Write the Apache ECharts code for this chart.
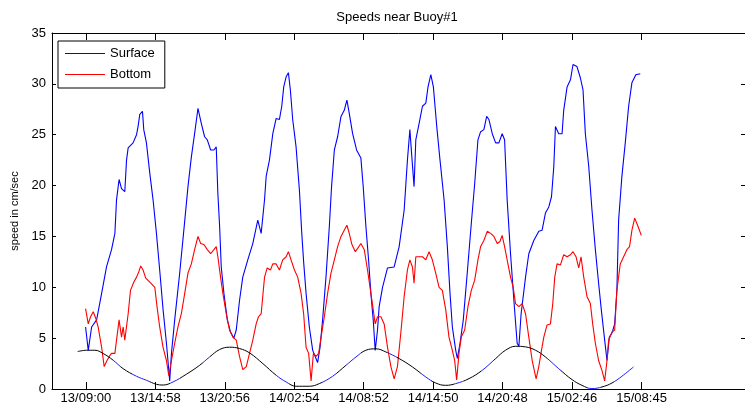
<!DOCTYPE html>
<html>
<head>
<meta charset="utf-8">
<script src="https://cdn.jsdelivr.net/npm/echarts@6/dist/echarts.min.js"></script>
<style>
html,body{margin:0;padding:0;background:#fff;}
#chart{width:745px;height:407px;}
</style>
</head>
<body>
<div id="chart"></div>
<script>
// Time in hours since 13/09:00
const tickHours = [0, 5.967, 11.933, 17.9, 23.867, 29.833, 35.8, 41.767, 47.75];
const tickLabels = ['13/09:00', '13/14:58', '13/20:56', '14/02:54', '14/08:52', '14/14:50', '14/20:48', '15/02:46', '15/08:45'];
const yTicks = [0, 5, 10, 15, 20, 25, 30, 35];

const surfaceHours = [-0.03,0.20,0.49,0.92,1.35,1.77,2.20,2.49,2.63,2.85,3.06,3.34,3.49,3.63,4.05,4.35,4.48,4.63,4.86,4.97,5.20,5.49,5.77,6.06,6.34,6.63,6.92,7.20,7.35,7.63,8.06,8.49,8.77,9.06,9.34,9.63,9.92,10.20,10.43,10.72,11.00,11.20,11.34,11.49,11.63,11.86,12.15,12.43,12.71,12.92,13.20,13.48,13.91,14.34,14.77,15.06,15.35,15.49,15.77,16.06,16.35,16.63,16.83,17.00,17.21,17.40,17.57,17.77,18.06,18.35,18.54,18.71,18.92,19.20,19.49,19.91,20.12,20.34,20.63,20.92,21.11,21.35,21.63,21.92,22.20,22.43,22.63,22.92,23.26,23.63,23.83,24.06,24.29,24.49,24.69,24.86,25.06,25.20,25.49,25.92,26.49,26.92,27.35,27.63,27.84,28.01,28.20,28.35,28.63,28.92,29.21,29.40,29.64,29.86,30.15,30.43,30.78,31.06,31.29,31.49,31.78,31.92,32.15,32.43,32.77,33.12,33.41,33.69,33.92,34.20,34.44,34.63,34.92,35.21,35.49,35.77,35.98,36.20,36.49,36.78,37.06,37.21,37.40,37.78,38.06,38.49,38.92,39.20,39.49,39.78,40.01,40.21,40.35,40.63,40.92,41.06,41.35,41.64,41.86,42.20,42.49,42.72,42.92,43.21,43.49,43.78,44.06,44.29,44.58,44.78,44.98,45.21,45.44,45.63,45.78,46.06,46.35,46.64,46.92,47.26,47.64];
const surfaceSpeed = [6.1,3.8,6.1,6.8,9.4,12.0,13.7,15.3,18.6,20.6,19.7,19.4,22.5,23.7,24.2,25.0,25.8,27.0,27.3,25.5,24.2,21.2,18.6,15.3,11.7,7.8,4.5,0.8,3.5,6.8,11.4,16.5,19.9,22.8,25.1,27.6,26.1,24.8,24.5,23.5,23.5,23.8,19.2,16.0,12.0,9.4,6.8,5.6,5.0,5.8,8.7,11.0,12.7,14.3,16.6,15.3,18.6,20.9,22.5,25.1,26.6,26.5,27.8,29.7,30.7,31.1,29.4,26.5,23.8,19.5,15.5,12.5,9.4,6.1,3.8,2.6,4.1,6.8,11.0,16.0,19.9,23.5,24.8,26.8,27.4,28.4,27.1,25.1,23.5,22.7,19.9,16.0,12.7,9.4,6.8,3.8,5.8,8.1,10.0,11.9,12.0,14.0,17.6,22.5,25.5,22.8,19.9,24.5,26.1,27.8,28.1,29.7,30.9,29.7,25.8,22.5,18.6,14.0,9.4,6.1,3.8,3.0,4.5,6.8,11.4,16.3,20.2,24.5,25.3,25.5,26.8,26.5,25.1,24.2,24.2,25.1,24.5,18.6,13.3,8.7,4.5,4.2,7.4,11.0,13.3,14.6,15.5,15.6,17.3,17.9,18.9,21.9,25.8,25.1,25.1,27.4,29.7,30.4,31.9,31.7,30.6,29.4,25.1,21.9,17.6,13.7,10.4,7.8,4.8,2.8,5.1,5.5,6.4,9.7,16.6,20.9,24.2,27.8,30.1,30.9,31.0];

const bottomHours = [-0.03,0.20,0.40,0.63,0.86,1.05,1.35,1.57,1.77,2.00,2.20,2.49,2.63,2.85,3.06,3.20,3.34,3.63,3.83,4.11,4.35,4.54,4.71,4.91,5.14,5.49,5.92,6.11,6.34,6.63,6.92,7.12,7.35,7.63,7.91,8.20,8.49,8.77,9.06,9.34,9.63,9.86,10.14,10.43,10.72,11.00,11.20,11.34,11.57,11.77,12.06,12.34,12.63,12.92,13.20,13.48,13.78,14.06,14.34,14.63,14.83,15.06,15.35,15.58,15.86,16.06,16.35,16.63,16.91,17.21,17.40,17.63,17.92,18.20,18.49,18.71,18.92,19.14,19.35,19.55,19.78,20.00,20.21,20.49,20.77,21.06,21.35,21.63,21.92,22.20,22.43,22.63,22.86,23.15,23.34,23.63,23.92,24.20,24.49,24.69,24.86,25.06,25.35,25.63,25.92,26.21,26.49,26.77,27.06,27.35,27.63,27.84,28.06,28.20,28.35,28.63,28.92,29.21,29.49,29.77,30.06,30.35,30.63,30.92,31.20,31.49,31.69,31.86,32.06,32.26,32.55,32.83,33.12,33.41,33.69,33.92,34.20,34.49,34.78,35.06,35.35,35.58,35.77,35.98,36.20,36.49,36.72,36.92,37.21,37.49,37.78,38.06,38.35,38.69,38.92,39.15,39.35,39.63,39.92,40.12,40.29,40.49,40.78,41.06,41.35,41.64,41.86,42.12,42.35,42.55,42.78,43.06,43.35,43.55,43.78,44.06,44.35,44.58,44.78,44.92,45.21,45.44,45.63,45.92,46.21,46.49,46.72,46.92,47.16,47.44,47.73];
const bottomSpeed = [7.9,6.4,7.1,7.6,6.9,6.1,4.1,2.2,2.7,3.2,3.5,3.5,4.8,6.8,5.1,6.1,4.8,7.4,9.7,10.5,11.0,11.5,12.1,11.7,10.9,10.5,10.0,8.1,6.1,4.1,2.8,1.3,2.8,4.5,6.1,7.4,9.4,11.4,12.3,13.7,15.0,14.3,14.2,13.7,13.3,13.7,14.0,13.0,11.0,9.4,7.4,5.8,5.1,4.8,3.2,1.9,2.2,3.5,4.8,6.4,7.1,7.4,11.0,11.9,11.7,12.3,12.3,11.7,12.7,13.0,13.5,12.7,11.7,11.0,9.4,7.4,4.1,3.5,0.8,3.5,3.2,3.5,5.1,7.1,9.4,11.4,12.7,14.0,15.0,15.6,16.1,15.3,14.2,13.5,13.8,14.3,13.7,11.7,9.4,7.8,6.4,7.1,7.1,6.4,4.1,2.2,1.0,2.2,5.5,9.1,11.7,12.7,12.0,10.4,13.0,13.0,13.0,12.7,13.5,12.7,11.4,10.0,9.7,7.8,5.1,3.8,2.8,0.9,3.5,5.1,5.8,8.1,9.7,10.7,12.7,14.0,14.6,15.5,15.3,15.0,14.3,14.5,15.1,14.0,12.7,11.0,10.0,8.4,8.1,8.4,7.4,5.1,2.8,1.0,2.2,3.8,5.1,6.3,6.4,8.4,11.0,12.3,12.2,13.2,13.0,13.2,13.5,13.0,11.9,13.0,11.0,9.1,8.4,6.4,4.5,2.8,1.8,0.8,2.8,4.8,5.6,5.8,9.7,12.3,13.0,13.7,14.0,15.6,16.8,16.0,15.1];

const tideHours = [-0.71,0.06,0.77,1.48,2.34,3.20,4.35,5.20,6.06,6.63,7.48,8.63,9.77,10.63,11.49,12.34,13.20,14.06,15.20,16.35,17.21,18.06,19.20,20.06,21.20,22.35,23.21,24.06,24.92,25.78,26.92,28.06,29.21,30.06,30.92,31.78,32.92,34.06,35.21,36.06,36.92,37.78,38.64,39.49,40.63,41.78,42.63,43.49,44.35,45.21,46.06,47.06];
const tideLevel = [3.68,3.81,3.81,3.49,2.83,2.0,1.25,0.86,0.46,0.39,0.69,1.45,2.33,3.15,3.88,4.11,3.98,3.55,2.5,1.35,0.69,0.27,0.27,0.53,1.25,2.33,3.15,3.81,3.95,3.64,2.99,2.17,1.18,0.59,0.36,0.53,1.02,1.84,2.99,3.81,4.2,4.14,3.81,3.15,2.0,0.92,0.36,0.04,0.2,0.59,1.25,2.17];

// stretches of the tide curve drawn in blue (hours)
const tideBlueSpans = [[2.31,2.91],[3.94,5.49],[7.20,8.06],[10.03,10.63],[16.37,17.49],[20.32,21.52],[22.37,23.66],[25.89,26.75],[28.80,29.66],[31.63,32.49],[33.95,35.06],[39.61,40.81],[43.04,44.23],[45.35,47.06]];

const xMin = -2.915, xMax = 56.64;

const zip = (xs, ys) => xs.map((x, i) => [x, ys[i]]);
const labelFor = v => {
  let best = '', d = 1e9;
  tickHours.forEach((t, i) => { const dd = Math.abs(t - v); if (dd < d) { d = dd; best = tickLabels[i]; } });
  return d < 0.05 ? best : '';
};

const FONT = '"Liberation Sans", Arial, sans-serif';
const LINE_ICON = 'path://M0,0H40V1H0Z';
const chart = echarts.init(document.getElementById('chart'), null, {renderer: 'canvas'});
const baseX = {
  type: 'value', min: xMin, max: xMax,
  axisLine: {show: true, onZero: false, lineStyle: {color: '#000', width: 1}},
  axisTick: {show: true, inside: true, length: 7, customValues: tickHours, lineStyle: {color: '#000'}},
  splitLine: {show: false}
};
const baseY = {
  type: 'value', min: 0, max: 35, interval: 5,
  axisLine: {show: true, onZero: false, lineStyle: {color: '#000', width: 1}},
  axisTick: {show: true, inside: true, length: 4, lineStyle: {color: '#000'}},
  splitLine: {show: false}
};
chart.setOption({
  animation: false,
  backgroundColor: '#fff',
  textStyle: {fontFamily: FONT},
  grid: {left: 52, right: -2, top: 33, bottom: 18, containLabel: false},
  graphic: [{
    type: 'text', x: 397, y: 17,
    style: {text: 'Speeds near Buoy#1', fill: '#000', font: '13px ' + FONT, textAlign: 'center', textVerticalAlign: 'middle'}
  }],
  legend: {
    data: [{name: 'Surface', icon: LINE_ICON}, {name: 'Bottom', icon: LINE_ICON}],
    orient: 'vertical', left: 58, top: 41,
    itemWidth: 40, itemHeight: 12, itemGap: 8,
    symbolKeepAspect: true,
    padding: [6, 10, 7, 7],
    borderColor: '#000', borderWidth: 1, backgroundColor: '#fff', borderRadius: 0,
    textStyle: {color: '#000', fontSize: 13, fontFamily: FONT}
  },
  xAxis: [
    Object.assign({}, baseX, {position: 'bottom',
      axisLabel: {show: true, customValues: tickHours, formatter: labelFor, color: '#000', fontSize: 13, fontFamily: FONT, margin: 3}}),
    Object.assign({}, baseX, {position: 'top', axisLabel: {show: false}})
  ],
  yAxis: [
    Object.assign({}, baseY, {position: 'left',
      name: 'speed in cm/sec', nameLocation: 'middle', nameGap: 25,
      nameTextStyle: {color: '#000', fontSize: 11, fontFamily: FONT},
      axisLabel: {show: true, color: '#000', fontSize: 13, fontFamily: FONT, margin: 6}}),
    Object.assign({}, baseY, {position: 'right', axisLabel: {show: false}})
  ],
  visualMap: {
    type: 'piecewise', show: false, dimension: 0, seriesIndex: 2,
    pieces: tideBlueSpans.map(s => ({gte: s[0], lte: s[1], color: '#1a1aff'})),
    outOfRange: {color: '#000000'}
  },
  series: [
    {name: 'Surface', type: 'line', data: zip(surfaceHours, surfaceSpeed), symbol: 'none',
     lineStyle: {color: '#0000ff', width: 1.1}, itemStyle: {color: '#0000ff'}, z: 2},
    {name: 'Bottom', type: 'line', data: zip(bottomHours, bottomSpeed), symbol: 'none',
     lineStyle: {color: '#ff0000', width: 1.1}, itemStyle: {color: '#ff0000'}, z: 3},
    {name: 'Tide', type: 'line', data: zip(tideHours, tideLevel), symbol: 'none', smooth: 0.4,
     lineStyle: {width: 1}, z: 4}
  ]
});
</script>
</body>
</html>
